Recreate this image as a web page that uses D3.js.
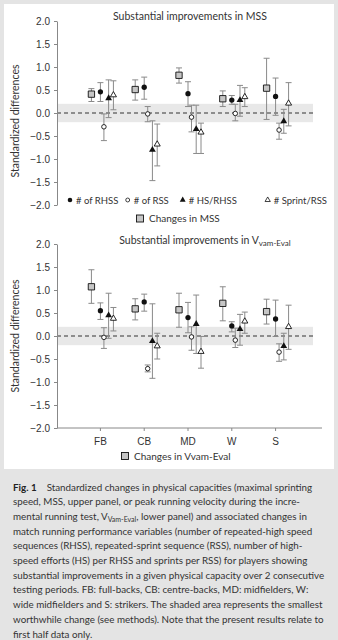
<!DOCTYPE html>
<html>
<head>
<meta charset="utf-8">
<script src="https://cdn.jsdelivr.net/npm/d3@7"></script>
<style>
body { margin: 0; background: #e4e4e4; }
svg { display: block; font-family: Lato, 'Liberation Sans', sans-serif; }
</style>
</head>
<body>
<svg id="fig" width="338" height="640"></svg>
<script>
var categories = ['FB', 'CB', 'MD', 'W', 'S'];
var yTicks = [-2, -1.5, -1, -0.5, 0, 0.5, 1, 1.5, 2];
var swc = [-0.2, 0.2];

// each entry: [mean, lower, upper] for FB, CB, MD, W, S
var mssChange = [[0.41, 0.25, 0.53], [0.51, 0.28, 0.72], [0.82, 0.65, 0.98], [0.31, 0.14, 0.48], [0.54, -0.14, 1.19]];
var mssRhss   = [[0.46, 0.25, 0.66], [0.56, 0.30, 0.78], [0.42, 0.14, 0.68], [0.28, 0.19, 0.38], [0.36, -0.05, 0.76]];
var mssRss    = [[-0.30, -0.60, -0.02], [-0.02, -0.19, 0.14], [-0.09, -0.41, 0.17], [-0.01, -0.17, 0.19], [-0.37, -0.57, -0.22]];
var mssHs     = [[0.32, -0.10, 0.72], [-0.80, -1.47, -0.17], [-0.35, -0.88, 0.17], [0.28, -0.07, 0.60], [-0.18, -0.44, 0.08]];
var mssSprint = [[0.39, 0.07, 0.70], [-0.68, -1.15, -0.24], [-0.42, -0.88, -0.22], [0.35, 0.14, 0.55], [0.21, -0.28, 0.66]];

var vamChange = [[1.07, 0.71, 1.44], [0.59, 0.35, 0.81], [0.57, 0.19, 0.93], [0.71, 0.33, 1.07], [0.53, 0.26, 0.80]];
var vamRhss   = [[0.55, 0.36, 0.72], [0.74, 0.54, 0.91], [0.40, 0.07, 0.73], [0.22, 0.09, 0.31], [0.37, -0.01, 0.78]];
var vamRss    = [[-0.03, -0.27, 0.18], [-0.71, -0.78, -0.63], [-0.02, -0.31, 0.20], [-0.09, -0.25, 0.17], [-0.35, -0.55, -0.17]];
var vamHs     = [[0.45, -0.05, 0.93], [-0.11, -0.92, 0.70], [0.26, -0.38, 0.89], [0.15, -0.20, 0.47], [-0.22, -0.52, 0.06]];
var vamSprint = [[0.38, 0.11, 0.62], [-0.22, -0.50, 0.06], [-0.34, -0.70, -0.01], [0.32, 0.06, 0.52], [0.20, -0.29, 0.67]];

var legendLabels = ['# of RHSS', '# of RSS', '# HS/RHSS', '# Sprint/RSS'];

var captionLines = [
	[{t: 'Fig. 1', b: true}, {t: '    Standardized changes in physical capacities (maximal sprinting'}],
	[{t: 'speed, MSS, upper panel, or peak running velocity during the incre-'}],
	[{t: 'mental running test, V'}, {t: 'Vam-Eval', sub: true}, {t: ', lower panel) and associated changes in', up: true}],
	[{t: 'match running performance variables (number of repeated-high speed'}],
	[{t: 'sequences (RHSS), repeated-sprint sequence (RSS), number of high-'}],
	[{t: 'speed efforts (HS) per RHSS and sprints per RSS) for players showing'}],
	[{t: 'substantial improvements in a given physical capacity over 2 consecutive'}],
	[{t: 'testing periods. FB: full-backs, CB: centre-backs, MD: midfielders, W:'}],
	[{t: 'wide midfielders and S: strikers. The shaded area represents the smallest'}],
	[{t: 'worthwhile change (see methods). Note that the present results relate to'}],
	[{t: 'first half data only.'}]
];

// marker styles, in series order: change, RHSS, RSS, HS/RHSS, Sprint/RSS
var styles = [
	{ shape: d3.symbolSquare, size: 40, fill: '#c6c6c6', stroke: '#111', dx: -8.5 },
	{ shape: d3.symbolCircle, size: 22, fill: '#111', stroke: 'none', dx: 0.5 },
	{ shape: d3.symbolCircle, size: 16, fill: '#fff', stroke: '#111', dx: 4 },
	{ shape: d3.symbolTriangle, size: 20, fill: '#111', stroke: 'none', dx: 8.7 },
	{ shape: d3.symbolTriangle, size: 16, fill: '#fff', stroke: '#111', dx: 13.5 }
];

var svg = d3.select('#fig');

svg.append('rect').attr('x', 0).attr('y', 0).attr('width', 338).attr('height', 640).attr('fill', '#e4e4e4');
svg.append('rect').attr('x', 4).attr('y', 4).attr('width', 330).attr('height', 465).attr('fill', '#fff');

var x = d3.scalePoint().domain(categories).range([57, 318]).padding(0.98);

function Panel(top, series) {
	var y = d3.scaleLinear().domain([-2, 2]).range([top + 184, top]);
	var g = svg.append('g');

	g.append('rect')
		.attr('x', 57)
		.attr('y', y(swc[1]))
		.attr('width', 256)
		.attr('height', y(swc[0]) - y(swc[1]))
		.attr('fill', '#e8e8e8');

	g.append('line')
		.attr('x1', 57).attr('x2', 313)
		.attr('y1', y(0)).attr('y2', y(0))
		.attr('stroke', '#333')
		.attr('stroke-dasharray', '4,3');

	var yAxis = g.append('g')
		.attr('transform', 'translate(57,0)')
		.call(d3.axisLeft(y).tickValues(yTicks).tickFormat(d3.format('.1f')).tickSize(3).tickPadding(4).tickSizeOuter(0));
	yAxis.select('.domain').attr('stroke', '#888');
	yAxis.selectAll('.tick line').attr('stroke', '#888');
	yAxis.selectAll('text').attr('fill', '#333').attr('font-size', 10).attr('font-family', null);

	series.forEach(function (data, i) {
		var st = styles[i];
		var sg = g.append('g');
		var bars = sg.selectAll('.bar').data(data).enter().append('g')
			.attr('transform', function (d, j) { return 'translate(' + (x(categories[j]) + st.dx) + ',0)'; })
			.attr('stroke', '#8a8a8a')
			.attr('stroke-width', 1);
		bars.append('line').attr('y1', function (d) { return y(d[1]); }).attr('y2', function (d) { return y(d[2]); });
		bars.append('line').attr('x1', -3).attr('x2', 3).attr('y1', function (d) { return y(d[1]); }).attr('y2', function (d) { return y(d[1]); });
		bars.append('line').attr('x1', -3).attr('x2', 3).attr('y1', function (d) { return y(d[2]); }).attr('y2', function (d) { return y(d[2]); });
	});

	series.forEach(function (data, i) {
		var st = styles[i];
		g.selectAll('.m' + i).data(data).enter().append('path')
			.attr('transform', function (d, j) { return 'translate(' + (x(categories[j]) + st.dx) + ',' + y(d[0]) + ')'; })
			.attr('d', d3.symbol().type(st.shape).size(st.size))
			.attr('fill', st.fill)
			.attr('stroke', st.stroke)
			.attr('stroke-width', 0.9);
	});

	return { y: y, g: g };
}

var upper = Panel(21, [mssChange, mssRhss, mssRss, mssHs, mssSprint]);
var lower = Panel(244, [vamChange, vamRhss, vamRss, vamHs, vamSprint]);

// titles
svg.append('text').attr('x', 190).attr('y', 19.5).attr('text-anchor', 'middle')
	.attr('font-size', 10.5).attr('fill', '#333').text('Substantial improvements in MSS');
var t2 = svg.append('text').attr('x', 205).attr('y', 243.5).attr('text-anchor', 'middle')
	.attr('font-size', 10.5).attr('fill', '#333');
t2.append('tspan').text('Substantial improvements in V');
t2.append('tspan').attr('font-size', 8).attr('dy', 2.5).text('vam-Eval');

// y labels
[[upper, 121], [lower, 336]].forEach(function (p) {
	svg.append('text')
		.attr('transform', 'translate(19,' + p[1] + ') rotate(-90)')
		.attr('text-anchor', 'middle')
		.attr('font-size', 10.5)
		.attr('fill', '#333')
		.text('Standardized differences');
});

// x axis on lower panel
var xAxis = svg.append('g')
	.attr('transform', 'translate(0,428)')
	.call(d3.axisBottom(x).tickSize(3).tickPadding(7).tickSizeOuter(0));
xAxis.select('.domain').attr('d', 'M57,0H322').attr('stroke', '#888');
xAxis.selectAll('.tick line').attr('stroke', '#888');
xAxis.selectAll('text').attr('fill', '#333').attr('font-size', 10).attr('font-family', null);

// legend
var legX = [70, 127.7, 182.7, 267.7];
legendLabels.forEach(function (lbl, i) {
	var st = styles[i + 1];
	svg.append('path')
		.attr('transform', 'translate(' + legX[i] + ',200)')
		.attr('d', d3.symbol().type(st.shape).size(st.size * 0.75))
		.attr('fill', st.fill).attr('stroke', st.stroke).attr('stroke-width', 0.8);
	svg.append('text').attr('x', legX[i] + 6).attr('y', 203.5)
		.attr('font-size', 9.5).attr('fill', '#333').text(lbl);
});

function squareKey(cx, cy, label) {
	svg.append('rect').attr('x', cx - 3.5).attr('y', cy - 3.5).attr('width', 7).attr('height', 7)
		.attr('fill', '#c6c6c6').attr('stroke', '#111').attr('stroke-width', 0.9);
	svg.append('text').attr('x', cx + 9).attr('y', cy + 3.5)
		.attr('font-size', 10).attr('fill', '#333').text(label);
}
squareKey(140, 218.5, 'Changes in MSS');
squareKey(125, 456, 'Changes in Vvam-Eval');

// caption
captionLines.forEach(function (parts, i) {
	var t = svg.append('text').attr('x', 13).attr('y', 490.5 + i * 14.7)
		.attr('font-size', 9.8).attr('fill', '#333').attr('xml:space', 'preserve');
	parts.forEach(function (p) {
		var s = t.append('tspan').text(p.t);
		if (p.b) s.attr('font-weight', 'bold').attr('fill', '#222');
		if (p.sub) s.attr('font-size', 7).attr('dy', 2);
		if (p.up) s.attr('dy', -2);
	});
});
</script>
</body>
</html>
